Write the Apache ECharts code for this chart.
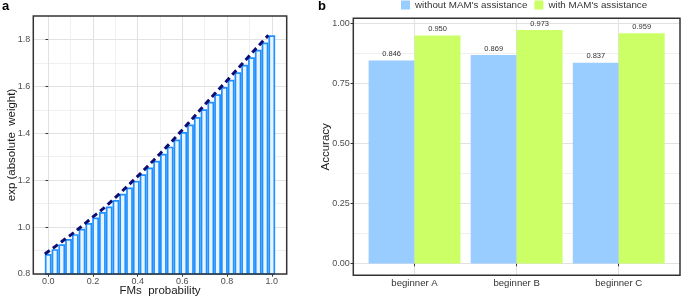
<!DOCTYPE html>
<html><head><meta charset="utf-8">
<script src="https://cdn.jsdelivr.net/npm/echarts@6/dist/echarts.min.js"></script>
<style>html,body{margin:0;padding:0;background:#fff}#c{width:685px;height:297px}</style>
</head><body><div id="c"></div>
<script>
// ---- Panel a data ----
const fmsProb = [0, 0.0303, 0.0606, 0.0909, 0.1212, 0.1515, 0.1818, 0.2121, 0.2424, 0.2727, 0.3030, 0.3333, 0.3636, 0.3939, 0.4242, 0.4545, 0.4848, 0.5152, 0.5455, 0.5758, 0.6061, 0.6364, 0.6667, 0.6970, 0.7273, 0.7576, 0.7879, 0.8182, 0.8485, 0.8788, 0.9091, 0.9394, 0.9697, 1.0];
const expWeight = [0.885, 0.906, 0.927, 0.949, 0.970, 0.993, 1.017, 1.041, 1.064, 1.088, 1.115, 1.142, 1.169, 1.197, 1.225, 1.254, 1.283, 1.313, 1.343, 1.373, 1.405, 1.437, 1.469, 1.502, 1.534, 1.566, 1.597, 1.628, 1.660, 1.692, 1.724, 1.756, 1.787, 1.818];
const fmsTicks = [0, 0.2, 0.4, 0.6, 0.8, 1.0];
const fmsMinor = [0.1, 0.3, 0.5, 0.7, 0.9];
const expTicks = [0.8, 1.0, 1.2, 1.4, 1.6, 1.8];
const expMinor = [0.9, 1.1, 1.3, 1.5, 1.7];

// ---- Panel b data ----
const learners = ['beginner A', 'beginner B', 'beginner C'];
const seriesNames = ["without MAM's assistance", "with MAM's assistance"];
const withoutMAM = [0.846, 0.869, 0.837];
const withMAM = [0.950, 0.973, 0.959];
const accTicks = [0, 0.25, 0.5, 0.75, 1.0];
const accMinor = [0.125, 0.375, 0.625, 0.875];

const FONT = "'Liberation Sans', Arial, sans-serif";
const GRID_MAJOR = '#e2e2e2', GRID_MINOR = '#ececec';
const halfStep = (fmsProb[1] - fmsProb[0]) / 2;

function baseAxis(extra) {
  return Object.assign({
    type: 'value',
    nameMoveOverlap: false,
    axisLine: { show: false },
    axisTick: { show: false },
    axisLabel: { show: false },
    splitLine: { show: false }
  }, extra);
}

const chart = echarts.init(document.getElementById('c'), null, { renderer: 'canvas' });
const option = {
  backgroundColor: '#ffffff',
  animation: false,
  textStyle: { fontFamily: FONT },
  title: [
    { text: 'a', left: 2, top: 0, padding: 0, textStyle: { fontSize: 13, fontWeight: 'bold', color: '#000', fontFamily: FONT } },
    { text: 'b', left: 318, top: 0, padding: 0, textStyle: { fontSize: 13, fontWeight: 'bold', color: '#000', fontFamily: FONT } }
  ],
  legend: {
    data: seriesNames,
    left: 401, top: 0, padding: 0,
    icon: 'rect', itemWidth: 9, itemHeight: 9, itemGap: 7,
    textStyle: { fontSize: 9.8, color: '#333', fontFamily: FONT }
  },
  grid: [
    { left: 33.3, top: 16, width: 253.4, height: 258, show: true, z: 10, backgroundColor: 'transparent', borderColor: '#333', borderWidth: 1.5, containLabel: false, outerBoundsMode: 'none' },
    { left: 353.3, top: 18.3, width: 326.7, height: 257, show: true, z: 10, backgroundColor: 'transparent', borderColor: '#333', borderWidth: 1.5, containLabel: false, outerBoundsMode: 'none' }
  ],
  xAxis: [
    baseAxis({
      gridIndex: 0, min: -0.0667, max: 1.0667,
      name: 'FMs  probability', nameLocation: 'middle', nameGap: 11,
      nameTextStyle: { fontSize: 11.5, color: '#1a1a1a', fontFamily: FONT },
      axisTick: { show: true, length: 2.7, lineStyle: { color: '#333', width: 1 }, customValues: fmsTicks },
      axisLabel: { show: true, margin: 3, fontSize: 9, color: '#4d4d4d', customValues: fmsTicks, formatter: v => v.toFixed(1) },
      splitLine: { show: true, lineStyle: { color: GRID_MAJOR, width: 1.1 } }
    }),
    baseAxis({
      gridIndex: 0, min: -0.0667, max: 1.0667,
      axisTick: { show: false, customValues: fmsMinor },
      splitLine: { show: true, lineStyle: { color: GRID_MINOR, width: 0.8 } }
    }),
    baseAxis({
      gridIndex: 1, min: 0.4, max: 3.6,
      axisTick: { show: true, length: 2.7, lineStyle: { color: '#333', width: 1 }, customValues: [1, 2, 3] },
      axisLabel: { show: true, margin: 3, fontSize: 9.6, color: '#333', customValues: [1, 2, 3], formatter: v => learners[Math.round(v) - 1] },
      splitLine: { show: true, lineStyle: { color: GRID_MAJOR, width: 1.1 } }
    })
  ],
  yAxis: [
    baseAxis({
      gridIndex: 0, min: 0.8, max: 1.9,
      name: 'exp (absolute  weight)', nameLocation: 'middle', nameGap: 15,
      nameTextStyle: { fontSize: 11.5, color: '#1a1a1a', fontFamily: FONT },
      axisTick: { show: true, length: 2.7, lineStyle: { color: '#333', width: 1 }, customValues: expTicks },
      axisLabel: { show: true, margin: 3, fontSize: 9, color: '#4d4d4d', customValues: expTicks, formatter: v => v.toFixed(1) },
      splitLine: { show: true, lineStyle: { color: GRID_MAJOR, width: 1.1 } }
    }),
    baseAxis({
      gridIndex: 0, min: 0.8, max: 1.9,
      axisTick: { show: false, customValues: expMinor },
      splitLine: { show: true, lineStyle: { color: GRID_MINOR, width: 0.8 } }
    }),
    baseAxis({
      gridIndex: 1, min: -0.0487, max: 1.0217,
      name: 'Accuracy', nameLocation: 'middle', nameGap: 21,
      nameTextStyle: { fontSize: 11.5, color: '#1a1a1a', fontFamily: FONT },
      axisTick: { show: true, length: 2.7, lineStyle: { color: '#333', width: 1 }, customValues: accTicks },
      axisLabel: { show: true, margin: 3.5, fontSize: 9, color: '#4d4d4d', customValues: accTicks, formatter: v => v.toFixed(2) },
      splitLine: { show: true, lineStyle: { color: GRID_MAJOR, width: 1.1 } }
    }),
    baseAxis({
      gridIndex: 1, min: -0.0487, max: 1.0217,
      axisTick: { show: false, customValues: accMinor },
      splitLine: { show: true, lineStyle: { color: GRID_MINOR, width: 0.8 } }
    })
  ],
  series: [
    {
      type: 'bar', xAxisIndex: 0, yAxisIndex: 0,
      data: fmsProb.map((x, i) => [x, expWeight[i]]),
      barWidth: '100%',
      itemStyle: { color: '#eaf4fe', borderColor: '#1e90ff', borderWidth: 1.7 },
      z: 2
    },
    {
      type: 'line', xAxisIndex: 0, yAxisIndex: 0,
      data: fmsProb.map((x, i) => [x - halfStep, expWeight[i]]),
      showSymbol: false, symbol: 'none',
      lineStyle: { color: '#0d0d73', width: 3, type: [6, 4], cap: 'butt' },
      z: 4
    },
    {
      name: seriesNames[0], type: 'bar', xAxisIndex: 2, yAxisIndex: 2,
      data: withoutMAM.map((v, i) => [i + 1, v]),
      barWidth: '45%', barGap: '0%',
      itemStyle: { color: '#99ccff' },
      label: { show: true, position: 'top', distance: 2.5, fontSize: 7.5, color: '#333', fontFamily: FONT, formatter: p => p.value[1].toFixed(3) }
    },
    {
      name: seriesNames[1], type: 'bar', xAxisIndex: 2, yAxisIndex: 2,
      data: withMAM.map((v, i) => [i + 1, v]),
      barWidth: '45%', barGap: '0%',
      itemStyle: { color: '#ccff66' },
      label: { show: true, position: 'top', distance: 2.5, fontSize: 7.5, color: '#333', fontFamily: FONT, formatter: p => p.value[1].toFixed(3) }
    }
  ]
};
chart.setOption(option);
</script>
</body></html>
